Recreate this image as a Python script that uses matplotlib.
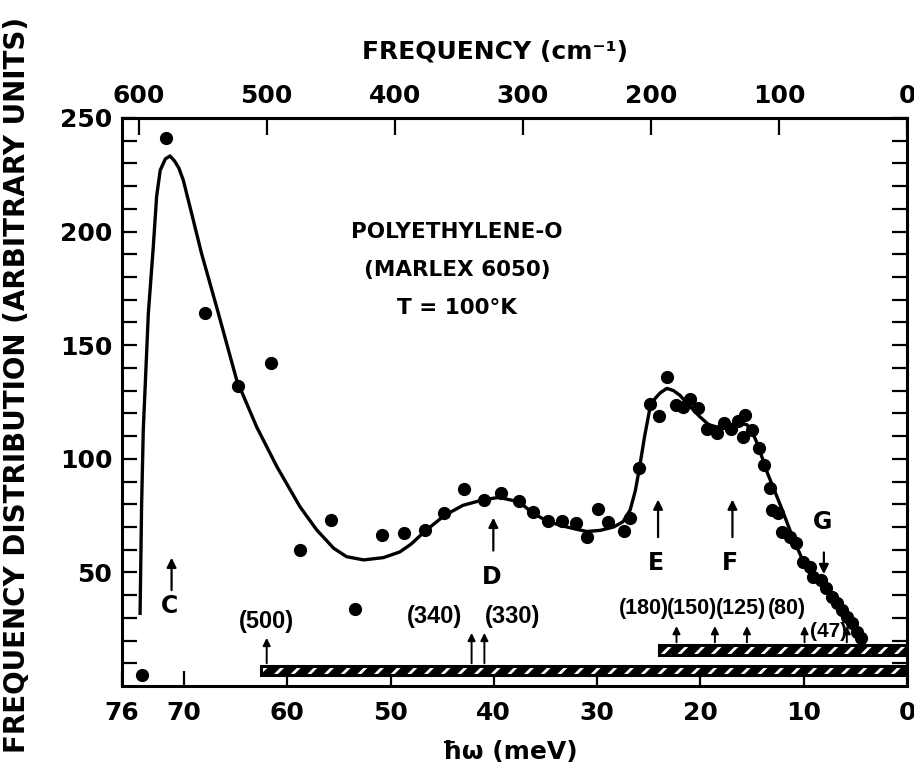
import matplotlib
matplotlib.use("Agg")
import matplotlib.pyplot as plt
from matplotlib.patches import Rectangle

plt.rcParams['font.family'] = ['DejaVu Sans']
plt.rcParams['font.weight'] = 'bold'

NARROW = ['Liberation Sans', 'DejaVu Sans']

# ---------------- data ----------------
dot_mev = [74.1, 71.7, 68.0, 64.8, 61.6, 58.8, 55.8, 53.4, 50.8, 48.7, 46.7, 44.8,
           42.9, 41.0, 39.35, 37.6, 36.2, 34.8, 33.4, 32.0, 31.0, 29.9, 28.9, 27.4,
           26.8, 25.9, 24.9, 24.0, 23.25, 22.4, 21.7, 21.0, 20.2, 19.4, 18.4, 17.7,
           17.0, 16.4, 15.7, 15.85, 15.05, 14.3, 13.85, 13.3, 13.1, 12.5, 12.15,
           11.35, 10.7, 10.1, 9.4, 9.1, 8.3, 7.8, 7.3, 6.8, 6.3, 5.8, 5.35, 4.85, 4.5]
dot_val = [4.8, 241, 164.3, 132, 142, 60, 73, 34, 66.6, 67.5, 68.7, 76,
           86.6, 81.9, 84.8, 81.4, 76.5, 72.8, 72.6, 71.6, 65.7, 77.8, 72, 68.2,
           74, 95.8, 124.2, 119, 135.8, 123.7, 123, 126.2, 122.2, 113.1, 111.2, 115.6,
           113.1, 116.8, 119.3, 109.7, 112.7, 104.9, 97.3, 87, 77.5, 76, 67.9,
           65.7, 62.8, 54.7, 52.5, 48.1, 46.7, 43, 39.3, 36.4, 33.5, 30.5, 27.6, 23.9, 21]

curve_mev = [74.25, 74.2, 74.1, 73.94, 73.45, 72.97, 72.65, 72.3, 71.8, 71.35,
             70.9, 70.5, 70.07, 69.26, 68.3, 66.85, 64.9, 62.96, 61.0, 58.77,
             57.15, 55.5, 54.25, 52.6, 50.7, 49.1, 48.0, 46.7, 44.8, 43.0, 41.0,
             39.5, 38.0, 37.0, 36.2, 34.8, 33.4, 32.0, 31.0, 29.7, 28.4, 27.5, 26.8,
             26.3, 25.9, 25.4, 24.9, 24.4, 23.9, 23.25, 22.6, 22.0, 21.0, 20.05, 19.2,
             18.4, 17.6, 16.8, 16.0, 15.5, 15.0, 14.5, 13.5, 12.2, 11.2, 10.25, 9.3,
             8.3, 7.3, 6.4, 5.3, 4.2]
curve_val = [32, 48, 80, 112.7, 164, 193.4, 215.4, 227, 232, 233.3,
             231, 228, 222.7, 208, 190.4, 167, 134.7, 114, 96.5, 78.9,
             68.7, 60.6, 56.9, 55.5, 56.5, 59, 62.5, 68, 75, 79.5, 82,
             83, 81.5, 79, 76, 72.5, 70.5, 69, 68, 68.5, 70, 72.3, 77.5,
             86, 96, 110, 122, 126.5, 129, 131, 130, 128, 123, 118.5, 115,
             114, 114.5, 115, 115.5, 115, 112, 106.8, 93.6, 78.9, 67, 56.9, 51,
             46.7, 41, 34.9, 27, 18.8]

# mode markers: label, position (meV), arrow from/to values, label value
mode_labels = ['C', 'D', 'E', 'F']
mode_mev = [71.2, 40.05, 24.1, 16.9]
mode_arrow_from = [41, 58.4, 64.3, 64.3]
mode_arrow_to = [57.7, 75.3, 83.3, 83.3]
mode_label_val = [35, 48, 54, 54]

# resolution markers (cm^-1)
res_cm = [500, 340, 330, 180, 150, 125, 80, 47]
res_text = ['(500)', '(340)', '(330)', '(180)', '(150)', '(125)', '(80)', '(47)']

top_ticks_cm = [600, 500, 400, 300, 200, 100, 0]
bottom_ticks = [76, 70, 60, 50, 40, 30, 20, 10, 0]
y_ticks = [50, 100, 150, 200, 250]

CM_PER_MEV = 8.0655

# ---------------- figure ----------------
fig = plt.figure(figsize=(9.14, 7.73), dpi=100)
ax = fig.add_axes([122/914, 1-686/773, (907-122)/914, (686-118)/773])
ax.set_xlim(76, 0)
ax.set_ylim(0, 250)

lw = 2.2
for s in ax.spines.values():
    s.set_linewidth(lw)

ax.set_xticks(bottom_ticks)
ax.set_xticklabels([str(t) for t in bottom_ticks])
ax.set_yticks(y_ticks)
ax.set_yticks(range(10, 250, 10), minor=True)
ax.tick_params(axis='both', which='both', direction='in', length=11, width=1.6,
               labelsize=18, right=True)
ax.tick_params(axis='x', which='both', top=False, pad=11)
ax.tick_params(axis='y', pad=7)
for lab in ax.get_xticklabels() + ax.get_yticklabels():
    lab.set_fontweight('bold')

secax = ax.secondary_xaxis('top', functions=(lambda x: x * CM_PER_MEV,
                                              lambda x: x / CM_PER_MEV))
secax.set_xticks(top_ticks_cm)
secax.set_xticklabels([str(t) for t in top_ticks_cm])
secax.tick_params(direction='in', length=12, width=1.6, labelsize=18, pad=7)
secax.spines['top'].set_linewidth(lw)
for lab in secax.get_xticklabels():
    lab.set_fontweight('bold')

# curve and points
ax.plot(curve_mev, curve_val, color='black', lw=2.4, zorder=4,
        solid_joinstyle='round')
ax.plot(dot_mev, dot_val, 'o', color='black', ms=8.5, zorder=6)

# resolution bars (black bars with white hatch)
plt.rcParams['hatch.linewidth'] = 2.0
def hbar(x0, x1, y0, y1):
    ax.add_patch(Rectangle((x1, y0), x0 - x1, y1 - y0, facecolor='black',
                           edgecolor='black', lw=0, zorder=3))
    ax.add_patch(Rectangle((x1, y0), x0 - x1, y1 - y0, fill=False,
                           edgecolor='white', hatch='//', lw=0, zorder=3.1))
    ax.add_patch(Rectangle((x1, y0), x0 - x1, y1 - y0, fill=False,
                           edgecolor='black', lw=2.2, zorder=3.2))
hbar(62.5, 0, 4.8, 8.8)
hbar(24.0, 0, 13.6, 18.0)

# mode arrows
for lab, x, y0, y1, yl in zip(mode_labels, mode_mev, mode_arrow_from,
                             mode_arrow_to, mode_label_val):
    ax.annotate('', xy=(x, y1), xytext=(x, y0),
                arrowprops=dict(arrowstyle='-|>', color='black', lw=1.6,
                                mutation_scale=14))
    ax.text(x + 0.2, yl, lab, ha='center', va='center', fontsize=17,
            fontweight='bold')
# G (pointing down)
ax.annotate('', xy=(8.05, 48), xytext=(8.05, 60),
            arrowprops=dict(arrowstyle='-|>', color='black', lw=1.6,
                            mutation_scale=14))
ax.text(8.2, 72.3, 'G', ha='center', va='center', fontsize=17, fontweight='bold')

# resolution arrows and labels
arrow_base = [8.8, 8.8, 8.8, 18.0, 18.0, 18.0, 18.0, 18.0]
arrow_top = [22.4, 24.6, 24.6, 27.6, 27.6, 27.6, 27.6, 27.6]
label_x = [62.0, 45.7, 38.15, 25.5, 20.8, 16.1, 11.6, 7.6]
label_y = [28.3, 30.5, 30.5, 34.2, 34.2, 34.2, 34.2, 23.9]
label_size = [17, 17, 17, 15.5, 15.5, 15.5, 15.5, 15]
for cm, txt, yb, yt, lx, ly, fs in zip(res_cm, res_text, arrow_base, arrow_top,
                                       label_x, label_y, label_size):
    x = cm / CM_PER_MEV
    ax.annotate('', xy=(x, yt), xytext=(x, yb),
                arrowprops=dict(arrowstyle='-|>', color='black', lw=1.4,
                                mutation_scale=11), zorder=2)
    ax.text(lx, ly, txt, ha='center', va='center', fontsize=fs,
            fontweight='bold', family=NARROW, zorder=2)

# sample text
for line, yy in zip(['POLYETHYLENE-O', '(MARLEX 6050)', 'T = 100°K'],
                    [232, 270, 308]):
    fig.text(457/914, 1 - yy/773, line, ha='center', va='center', fontsize=15.5,
             fontweight='bold')

# axis titles
fig.text(495/914, 1 - 52/773, 'FREQUENCY (cm⁻¹)', ha='center', va='center',
         fontsize=18, fontweight='bold')
fig.text(510/914, 1 - 752/773, 'ħω (meV)', ha='center', va='center',
         fontsize=18, fontweight='bold')
fig.text(17/914, 1 - 385/773, 'FREQUENCY DISTRIBUTION (ARBITRARY UNITS)',
         rotation=90, ha='center', va='center', fontsize=20, fontweight='bold')

fig.savefig('out.png', dpi=100)
